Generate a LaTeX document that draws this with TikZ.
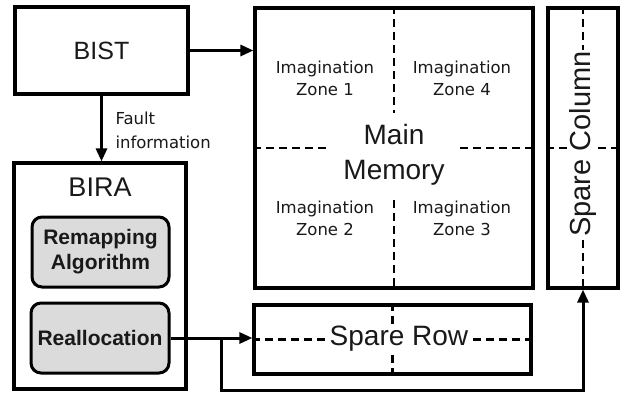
\documentclass[tikz,border=0pt]{standalone}
\usepackage{fontspec}
\setmainfont{Liberation Sans}
\newfontfamily\dvfont{DejaVu Sans}
\usetikzlibrary{arrows.meta}
\begin{document}
\begin{tikzpicture}[x=1pt,y=-1pt,
  box/.style={draw, line width=3.2pt, inner sep=0pt},
  inbox/.style={draw, line width=3pt, rounded corners=10pt, fill=gray!28, inner sep=0pt, align=center, font=\fontsize{21}{25}\selectfont\bfseries},
  arr/.style={line width=3pt, -{Triangle[length=13pt,width=11pt]}},
  dsh/.style={line width=2.8pt, dash pattern=on 8pt off 5pt},
  zone/.style={align=center, font=\dvfont\fontsize{16.5}{22}\selectfont},
  every node/.append style={text=black!90}]
\useasboundingbox[fill=white] (0,0) rectangle (624,394);
% boxes
\node[box, minimum width=173pt, minimum height=87pt, font=\fontsize{25}{30}\selectfont] (bist) at (101.5,50.5) {BIST};
\node[box, minimum width=172pt, minimum height=226pt] (bira) at (100,276) {};
\node[font=\fontsize{27}{32}\selectfont] (biralbl) at (100,187) {BIRA};
\node[inbox, minimum width=137pt, minimum height=70pt] (remap) at (100.5,252) {Remapping\\Algorithm};
\node[inbox, minimum width=138pt, minimum height=70pt] (realloc) at (100,338) {Reallocation};
\node[box, minimum width=278pt, minimum height=280pt] (main) at (394,148) {};
\node[box, minimum width=70pt, minimum height=280pt] (scol) at (583,148) {};
\node[box, minimum width=277pt, minimum height=69pt] (srow) at (392.5,339.5) {};
% main memory dashed
\draw[dsh] (main.north) -- (394,113);
\draw[dsh] (394,200) -- (main.south);
\draw[dsh] (main.west) -- (328,148);
\draw[dsh] (460,148) -- (main.east);
\node[zone] (z1) at (325,78) {Imagination\\Zone 1};
\node[zone] (z4) at (462,78) {Imagination\\Zone 4};
\node[zone] (z2) at (325,218) {Imagination\\Zone 2};
\node[zone] (z3) at (462,218) {Imagination\\Zone 3};
\node[align=center, font=\fontsize{28}{35}\selectfont] (mm) at (394,155) {Main\\Memory};
% spare column
\draw[dsh] (scol.north) -- (scol.south);
\draw[dsh] (scol.west) -- (scol.east);
\node[rotate=90, fill=white, inner sep=1pt, font=\fontsize{29}{34}\selectfont] (sclbl) at (583,144) {Spare Column};
% spare row
\draw[dsh] (srow.west) -- (srow.east);
\draw[dsh] (srow.north) -- (srow.south);
\node[fill=white, inner sep=1pt, font=\fontsize{28}{34}\selectfont] (srlbl) at (399,339) {Spare Row};
% connectors
\draw[arr] (bist.east) -- (bist.east -| main.west);
\draw[arr] (bist.south) -- (bist.south |- bira.north);
\node[anchor=west, align=left, font=\dvfont\fontsize{16.5}{24}\selectfont] (fault) at (112,130) {Fault\\information};
\draw[arr] (realloc.east) -- (realloc.east -| srow.west);
\coordinate (br) at (221,338);
\coordinate (bot) at (221,390);
\draw[arr] (br) -- (bot) -| (scol.south);
\end{tikzpicture}
\end{document}
